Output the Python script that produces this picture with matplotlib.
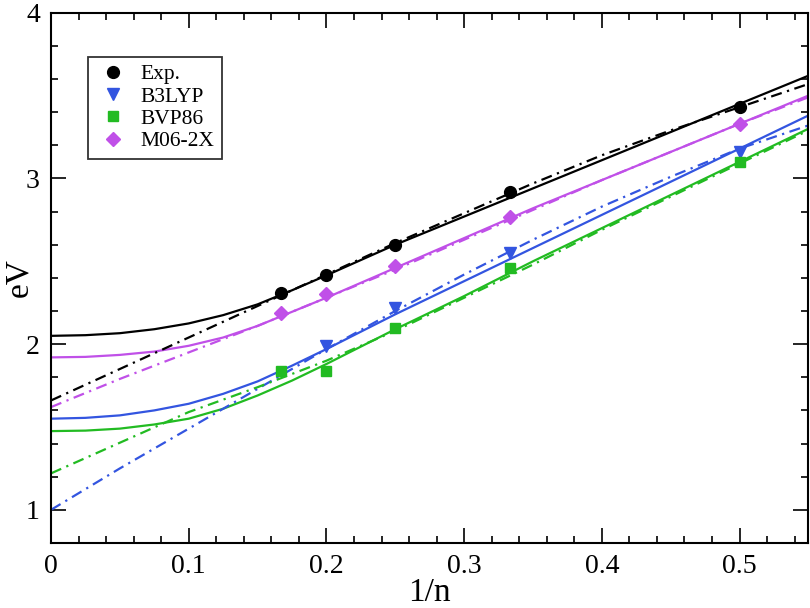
import matplotlib
matplotlib.use('Agg')
import matplotlib.pyplot as plt
from matplotlib.ticker import MultipleLocator

plt.rcParams['font.family'] = ['Liberation Serif', 'DejaVu Serif']

# measured excitation energies vs 1/n
inv_n = [1/6, 1/5, 1/4, 1/3, 1/2]
exp_ev = [2.31, 2.42, 2.60, 2.92, 3.43]
b3lyp_x = [1/5, 1/4, 1/3, 1/2]
b3lyp_ev = [1.99, 2.22, 2.55, 3.16]
bvp86_ev = [1.84, 1.84, 2.10, 2.46, 3.10]
m062x_ev = [2.19, 2.30, 2.47, 2.77, 3.33]

solid_x = [0.0, 0.025, 0.05, 0.075, 0.10, 0.125, 0.15, 0.175, 0.20,
           0.25, 0.30, 0.35, 0.40, 0.45, 0.50, 0.55]
exp_solid = [2.05, 2.054, 2.066, 2.09, 2.125, 2.175, 2.24, 2.325, 2.415,
             2.60, 2.77, 2.94, 3.11, 3.28, 3.45, 3.62]
m06_solid = [1.92, 1.923, 1.935, 1.955, 1.99, 2.04, 2.11, 2.195, 2.28,
             2.46, 2.64, 2.82, 2.99, 3.16, 3.33, 3.50]
b3_solid = [1.55, 1.555, 1.57, 1.60, 1.64, 1.70, 1.775, 1.87, 1.97,
            2.18, 2.38, 2.58, 2.78, 2.98, 3.18, 3.38]
bvp_solid = [1.475, 1.478, 1.49, 1.515, 1.55, 1.61, 1.69, 1.78, 1.88,
             2.09, 2.29, 2.50, 2.70, 2.90, 3.10, 3.30]

# dash-dot fit curves
dash_x = [0.0, 0.05, 0.10, 0.15, 0.20, 0.25, 0.30, 0.35, 0.40, 0.45, 0.50, 0.55]
exp_dash = [1.66, 1.85, 2.04, 2.23, 2.42, 2.61, 2.79, 2.97, 3.14, 3.29, 3.43, 3.57]
m06_dash = [1.62, 1.79, 1.95, 2.11, 2.28, 2.45, 2.63, 2.81, 2.99, 3.16, 3.33, 3.49]
b3_dash = [1.00, 1.25, 1.49, 1.73, 1.97, 2.20, 2.42, 2.63, 2.83, 3.01, 3.18, 3.32]
bvp_dash = [1.22, 1.405, 1.59, 1.74, 1.90, 2.08, 2.28, 2.48, 2.69, 2.89, 3.09, 3.29]

black = 'black'
blue = '#3355e0'
green = '#22bb22'
magenta = '#c050e8'

fig = plt.figure(figsize=(8.1, 6.08), dpi=100)
ax = fig.add_axes([0.063, 0.107, 0.935, 0.872])

lw = 1.6
for ys, c in [(exp_solid, black), (m06_solid, magenta), (b3_solid, blue), (bvp_solid, green)]:
    ax.plot(solid_x, ys, '-', color=c, lw=lw, zorder=2)
for ys, c in [(exp_dash, black), (m06_dash, magenta), (b3_dash, blue), (bvp_dash, green)]:
    ax.plot(dash_x, ys, color=c, lw=lw, zorder=2, linestyle=(0, (5, 2.5, 1, 2.5)))

ax.plot(inv_n, exp_ev, 'o', color=black, ms=8.5, ls='none', label='Exp.', zorder=3)
ax.plot(b3lyp_x, b3lyp_ev, 'v', color=blue, ms=9, ls='none', label='B3LYP', zorder=3)
ax.plot(inv_n, bvp86_ev, 's', color=green, ms=7.5, ls='none', label='BVP86', zorder=3)
ax.plot(inv_n, m062x_ev, 'D', color=magenta, ms=7, ls='none', label='M06-2X', zorder=3)

ax.set_xlim(0, 0.55)
ax.set_ylim(0.8, 4)
ax.xaxis.set_minor_locator(MultipleLocator(0.02))
ax.yaxis.set_minor_locator(MultipleLocator(0.2))
ax.set_xticks([0, 0.1, 0.2, 0.3, 0.4, 0.5])
ax.set_xticklabels(['0', '0.1', '0.2', '0.3', '0.4', '0.5'])
ax.set_yticks([1, 2, 3, 4])
ax.set_yticklabels(['1', '2', '3', '4'])
ax.tick_params(which='both', direction='in', top=True, right=True, width=1.2, labelsize=20)
ax.tick_params(which='major', length=11, pad=8)
ax.tick_params(which='minor', length=5)
for s in ax.spines.values():
    s.set_linewidth(1.5)

ax.set_xlabel('1/n', fontsize=24, labelpad=-1)
ax.set_ylabel('eV', fontsize=24)
ax.yaxis.set_label_coords(-0.022, 0.5)

leg = ax.legend(loc='upper left', bbox_to_anchor=(0.049, 0.917), fontsize=15.5,
                frameon=True, fancybox=False, handletextpad=0.5, borderpad=0.35,
                labelspacing=0.1, handlelength=1.6, borderaxespad=0)
leg.get_frame().set_edgecolor('black')
leg.get_frame().set_linewidth(1.3)

plt.savefig('out.png', dpi=100)
